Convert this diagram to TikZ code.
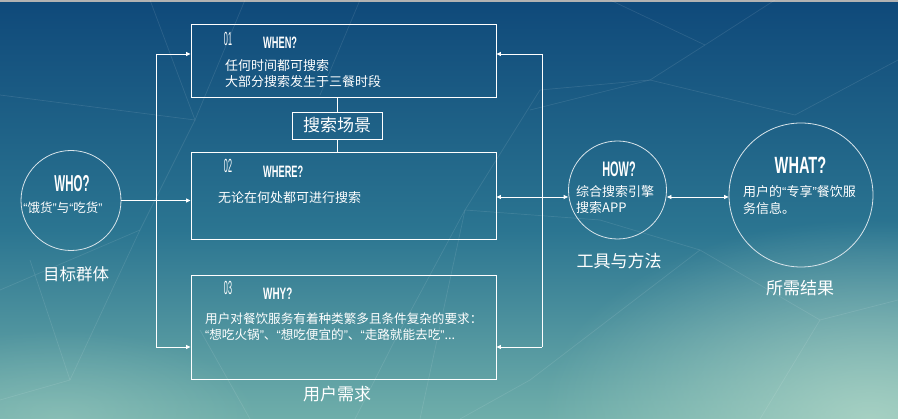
\documentclass[tikz,border=0pt]{standalone}
\usepackage{fontspec}
\setmainfont{Noto Sans CJK SC}
\newfontfamily\hdfont{Liberation Sans}
\usetikzlibrary{arrows.meta,fadings}
\tikzfading[name=softglow, inner color=transparent!0, outer color=transparent!100]
\definecolor{bgtop}{HTML}{0F497A}
\definecolor{bgmid}{HTML}{2B7591}
\definecolor{bgbot}{HTML}{6FAEAA}
\definecolor{glow}{HTML}{B8DCCB}
\definecolor{ring}{HTML}{D8E4EA}
\newcommand{\hd}[2]{\scalebox{#1}[1]{\hdfont\bfseries #2}}
\newcommand{\num}[1]{\scalebox{0.38}[1]{\hdfont #1}}
\newcommand{\oq}{{\hdfont “}}
\newcommand{\cq}{{\hdfont ”}}
\begin{document}
\begin{tikzpicture}[x=1pt,y=-1pt,
  wl/.style={draw=white, line width=0.8pt},
  arr/.style={wl, -{Triangle[length=4.5pt,width=4pt]}},
  darr/.style={wl, {Triangle[length=4.5pt,width=4pt]}-{Triangle[length=4.5pt,width=4pt]}},
  qbox/.style={draw=white, line width=0.9pt, minimum width=305pt, inner sep=0pt},
  ringc/.style={circle, draw=ring, line width=0.8pt, inner sep=0pt},
  txt/.style={text=white, inner sep=0pt, anchor=west, font=\fontsize{13}{16}\selectfont},
  ctxt/.style={text=white, inner sep=0pt, font=\fontsize{13}{16}\selectfont},
  lbl/.style={text=white, inner sep=0pt, font=\fontsize{17}{20}\selectfont},
  numt/.style={text=white, inner sep=0pt, font=\fontsize{19}{19}\selectfont},
  faint/.style={draw=white, opacity=0.10, line width=0.7pt}
]
% background
\useasboundingbox (0,0) rectangle (898,419);
\shade[top color=bgtop, bottom color=bgmid] (0,0) rectangle (898,230);
\shade[top color=bgmid, bottom color=bgbot] (0,230) rectangle (898,419);
\fill[glow, opacity=0.75, path fading=softglow] (870,419) ellipse [x radius=330pt, y radius=200pt];
\fill[glow, opacity=0.35, path fading=softglow] (60,419) ellipse [x radius=200pt, y radius=90pt];
\fill[gray!60] (0,0) rectangle (898,2);
% faint low-poly lines
\draw[faint] (245,0) -- (195,120) -- (150,0);
\draw[faint] (0,95) -- (195,120) -- (140,230) -- (0,290);
\draw[faint] (360,0) -- (320,95);
\draw[faint] (610,0) -- (705,45) -- (775,0);
\draw[faint] (705,45) -- (650,80) -- (530,110);
\draw[faint] (650,80) -- (795,115) -- (898,60);
\draw[faint] (465,210) -- (540,90) -- (650,80);
\draw[faint] (465,210) -- (420,419);
\draw[faint] (465,210) -- (395,340) -- (355,419);
\draw[faint] (465,210) -- (600,220) -- (700,250);
\draw[faint] (700,250) -- (530,380) -- (460,419);
\draw[faint] (700,250) -- (820,320) -- (898,300);
\draw[faint] (820,320) -- (760,419);
\draw[faint] (30,260) -- (70,380) -- (0,400);
\draw[faint] (70,380) -- (140,230);
\draw[faint] (250,419) -- (200,330);

% boxes
\node[qbox, minimum height=73pt] (box1) at (343.5,60.5) {};
\node[qbox, minimum height=87pt] (box2) at (343.5,195.5) {};
\node[qbox, minimum height=104pt] (box3) at (343.5,327) {};
\node[draw=white, line width=0.9pt, minimum width=90pt, minimum height=27pt, inner sep=0pt, text=white, font=\fontsize{17}{20}\selectfont] (scene) at (337,125.5) {搜索场景};
\draw[wl] (scene.north) -- (scene.north |- box1.south);
\draw[wl] (scene.south) -- (scene.south |- box2.north);

% box texts
\node[numt] (n1) at (228,38.5) {\num{01}};
\node[txt] (h1) at (263,43) {\hd{0.56}{\fontsize{16.5}{16}\selectfont WHEN?}};
\node[txt] (t1a) at (225,66) {任何时间都可搜索};
\node[txt] (t1b) at (225,82) {大部分搜索发生于三餐时段};

\node[numt] (n2) at (228,166) {\num{02}};
\node[txt] (h2) at (263,171.5) {\hd{0.56}{\fontsize{16.5}{16}\selectfont WHERE?}};
\node[txt] (t2) at (218,198) {无论在何处都可进行搜索};

\node[numt] (n3) at (228,288) {\num{03}};
\node[txt] (h3) at (263,294) {\hd{0.6}{\fontsize{16.5}{16}\selectfont WHY?}};
\node[txt, font=\fontsize{12.6}{16}\selectfont] (t3a) at (205,319) {用户对餐饮服务有着种类繁多且条件复杂的要求：};
\node[txt, font=\fontsize{12.6}{16}\selectfont] (t3b) at (205,335) {\oq 想吃火锅\cq 、\oq 想吃便宜的\cq 、\oq 走路就能去吃\cq ...};
\node[lbl] (need) at (337,394) {用户需求};

% circles
\node[ringc, minimum size=100pt] (who) at (71,200.5) {};
\node[text=white, inner sep=0pt] (whoh) at (72,183.5) {\hd{0.5}{\fontsize{23}{23}\selectfont WHO?}};
\node[ctxt, font=\fontsize{12.5}{16}\selectfont] (whot) at (63,208) {\oq 饿货\cq 与\oq 吃货\cq};
\node[lbl, font=\fontsize{16.5}{20}\selectfont] (target) at (76,274) {目标群体};

\node[ringc, minimum size=98pt] (how) at (617.5,190) {};
\node[text=white, inner sep=0pt] (howh) at (619,169.5) {\hd{0.52}{\fontsize{21}{21}\selectfont HOW?}};
\node[txt] (howa) at (576,192) {综合搜索引擎};
\node[txt] (howb) at (576,208) {搜索APP};
\node[lbl] (tool) at (619,261) {工具与方法};

\node[ringc, minimum size=144pt] (what) at (801,195) {};
\node[text=white, inner sep=0pt] (whath) at (800.5,165.5) {\hd{0.62}{\fontsize{23.5}{23.5}\selectfont WHAT?}};
\node[txt] (whata) at (743,192) {用户的\oq 专享\cq 餐饮服};
\node[txt] (whatb) at (743,208.5) {务信息。};
\node[lbl] (result) at (800,288) {所需结果};

% left connectors
\coordinate (L1) at (156,54);
\coordinate (L2) at (156,200.5);
\coordinate (L3) at (156,347);
\draw[wl] (L1) -- (L3);
\draw[arr] (L1) -- (L1 -| box1.west);
\draw[arr] (who.east) -- (who.east -| box2.west);
\draw[arr] (L3) -- (L3 -| box3.west);

% right connectors
\coordinate (R1) at (542,54);
\coordinate (R2) at (542,197);
\coordinate (R3) at (542,347);
\draw[wl] (R1) -- (R3);
\draw[arr] (R1) -- (R1 -| box1.east);
\draw[arr] (R3) -- (R3 -| box3.east);
\draw[darr] (R2 -| box2.east) -- (R2 -| how.west);
\draw[darr] (R2 -| how.east) -- (R2 -| what.west);
\end{tikzpicture}
\end{document}
